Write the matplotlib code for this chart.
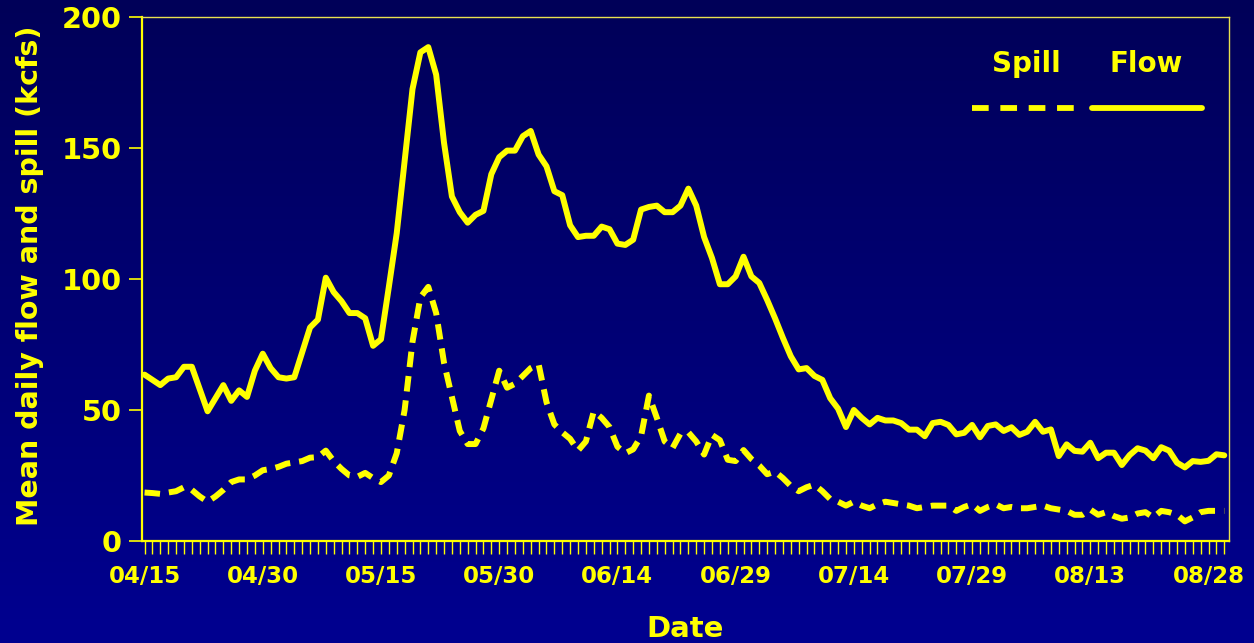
import numpy as np
import pandas as pd
import matplotlib
matplotlib.use("Agg")
import matplotlib.pyplot as plt
from matplotlib.lines import Line2D
from matplotlib.colors import LinearSegmentedColormap

# ─────────────────────────────────────────────
# DATA  (mean daily values, kcfs, one per day from 04/15)
# ─────────────────────────────────────────────
START_DATE = "2001-04-15"
LABEL_EVERY = 15

flow = [
    63.5, 61.5, 59.5, 62, 62.5, 66.5, 66.5, 58, 49.5, 54.5,
    59.5, 53.5, 57.5, 55, 65, 71.5, 66, 62.5, 62, 62.5,
    72, 81.5, 84.5, 100.5, 95, 91.5, 87, 87, 85, 74.5,
    77, 97, 117.5, 145, 172.5, 186.5, 188.5, 178, 152, 131.5,
    125.5, 121.5, 124.5, 126, 140, 146.5, 149, 149, 154.5, 156.5,
    147.5, 143, 133.5, 132, 120.5, 116, 116.5, 116.5, 120, 119,
    113.5, 113, 115, 126.5, 127.5, 128, 125.5, 125.5, 128, 134.5,
    128, 116, 108, 98, 98, 101, 108.5, 101, 98.5, 92,
    85, 77.5, 70.5, 65.5, 66, 63, 61.5, 54.5, 50.5, 43.5,
    50, 47, 44.5, 47, 46, 46, 45, 42.5, 42.5, 40,
    45, 45.5, 44.3, 40.7, 41.3, 44.3, 39.6, 43.9, 44.5, 42,
    43.4, 40.5, 41.7, 45.5, 41.7, 42.6, 32.4, 36.9, 34.4, 34.1,
    37.5, 31.6, 33.7, 33.7, 29, 32.8, 35.4, 34.5, 31.6, 35.8,
    34.5, 29.9, 28.1, 30.5, 30.2, 30.6, 33.1, 32.7,
]

spill = [
    18.5, 18.3, 18, 18.5, 19, 20.5, 19.5, 17, 15, 17,
    19.5, 22.5, 23.5, 23.5, 25, 27, 27.5, 28.3, 29.5, 30,
    30.5, 31.8, 32, 34.5, 30.5, 27.5, 25, 24.5, 26, 24,
    22.5, 25, 33.5, 50, 76, 93, 97, 87, 68, 55,
    42, 37, 37, 43, 54, 65, 58.5, 60, 63, 66,
    67.5, 53, 44.5, 41.5, 39, 34.5, 38, 49.5, 47, 43.5,
    36, 33.5, 35, 40, 55.5, 47, 38, 35.5, 41, 41.5,
    38, 33, 40.5, 38.5, 31, 30.5, 34.7, 31.3, 28.8, 25.5,
    26.5, 24, 21, 19, 20.5, 21.5, 19, 16, 15, 13.5,
    15, 13.5, 12.5, 14, 15, 14.5, 14, 13.5, 12.5, 13,
    13.5, 13.5, 13.5, 11.5, 13, 14, 11.5, 13, 14, 12.5,
    13, 12.5, 12.5, 13, 13.5, 12.5, 12, 11.5, 10, 10,
    12, 10, 11, 9.5, 8.5, 9, 10.5, 11, 9, 11.5,
    11, 10, 7.5, 9, 11, 11.5, 11.5, 11.5,
]

y_ticks = [0, 50, 100, 150, 200]

# ─────────────────────────────────────────────
# STYLE
# ─────────────────────────────────────────────
YELLOW = "#FFFF00"
W, H = 1254, 643
plt.rcParams["font.family"] = "DejaVu Sans"
plt.rcParams["font.weight"] = "bold"

days = np.arange(len(flow))
dates = pd.date_range(START_DATE, periods=len(flow), freq="D")

fig = plt.figure(figsize=(W / 100, H / 100), dpi=100)

# navy gradient background (dark at top, brighter blue at bottom)
bg = fig.add_axes([0, 0, 1, 1], zorder=-1)
cmap = LinearSegmentedColormap.from_list("bg", ["#000058", "#000090"])
bg.imshow(np.linspace(0, 1, 256).reshape(-1, 1), aspect="auto", cmap=cmap,
          extent=[0, 1, 0, 1], origin="upper")
bg.axis("off")

# plot area, placed in pixels
left, right, top, bottom = 141.7, 1229, 17, 541
ax = fig.add_axes([left / W, 1 - bottom / H, (right - left) / W, (bottom - top) / H])
ax.set_facecolor("none")

ax.plot(days, flow, color=YELLOW, lw=4.3, solid_joinstyle="round",
        solid_capstyle="round")
ax.plot(days, spill, color=YELLOW, lw=4.3, dashes=(2.6, 1.5),
        dash_capstyle="butt")

ax.set_xlim(-0.36, 137.6)
ax.set_ylim(0, 200)

# spines
for side in ("left", "bottom"):
    ax.spines[side].set_color(YELLOW)
    ax.spines[side].set_linewidth(1.6)
for side in ("top", "right"):
    ax.spines[side].set_color("#E8E050")
    ax.spines[side].set_linewidth(1.0)

# ticks
ax.set_xticks(days[::LABEL_EVERY])
ax.set_xticklabels(dates[::LABEL_EVERY].strftime("%m/%d"))
ax.set_xticks(days, minor=True)
ax.tick_params(axis="x", which="both", direction="out", length=9.6, width=1,
               color=YELLOW, pad=8, labelsize=16.5, labelcolor=YELLOW)
ax.set_yticks(y_ticks)
ax.tick_params(axis="y", direction="out", length=9.1, width=1.2,
               color=YELLOW, pad=5, labelsize=20.8, labelcolor=YELLOW)

# axis titles
fig.text(30 / W, 1 - 276 / H, "Mean daily flow and spill (kcfs)", rotation=90,
         fontsize=20.5, color=YELLOW, ha="center", va="center")
fig.text(685 / W, 1 - 637 / H, "Date", fontsize=21, color=YELLOW,
         ha="center", va="baseline")

# legend: names above line samples
fig.text(1026.7 / W, 1 - 71.7 / H, "Spill", fontsize=20, color=YELLOW,
         ha="center", va="baseline")
fig.text(1145.7 / W, 1 - 71.7 / H, "Flow", fontsize=20, color=YELLOW,
         ha="center", va="baseline")
ly = 1 - 108.3 / H
fig.add_artist(Line2D([971.7 / W, 1080 / W], [ly, ly], transform=fig.transFigure,
                      color=YELLOW, lw=4.2, dashes=(2.86, 2.0), dash_capstyle="butt"))
fig.add_artist(Line2D([1092 / W, 1202 / W], [ly, ly], transform=fig.transFigure,
                      color=YELLOW, lw=4.2, solid_capstyle="round"))

fig.savefig("out.png", dpi=100)
